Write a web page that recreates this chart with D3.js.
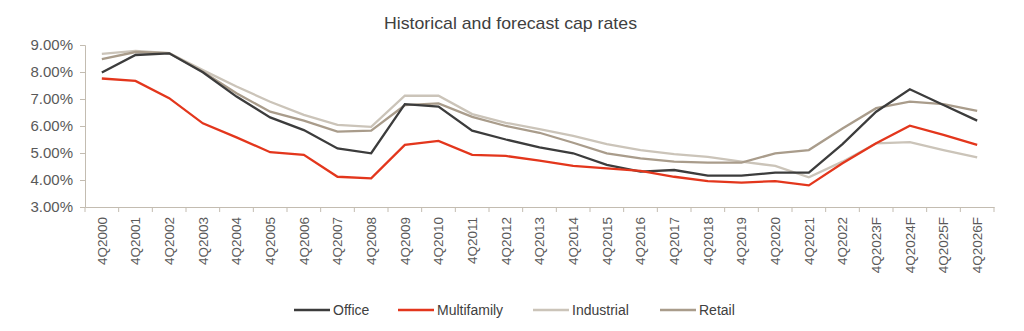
<!DOCTYPE html>
<html><head><meta charset="utf-8">
<script src="https://cdn.jsdelivr.net/npm/d3@7"></script>
<style>body{margin:0;background:#fff;} svg{display:block;font-family:"Liberation Sans",Arial,sans-serif;}</style>
</head><body>
<svg id="c" width="1024" height="331"></svg>
<script>
const categories = ["4Q2000","4Q2001","4Q2002","4Q2003","4Q2004","4Q2005","4Q2006","4Q2007","4Q2008","4Q2009","4Q2010","4Q2011","4Q2012","4Q2013","4Q2014","4Q2015","4Q2016","4Q2017","4Q2018","4Q2019","4Q2020","4Q2021","4Q2022","4Q2023F","4Q2024F","4Q2025F","4Q2026F"];
const office      = [7.98,8.63,8.69,7.99,7.09,6.32,5.85,5.17,4.99,6.81,6.72,5.83,5.50,5.21,4.99,4.56,4.31,4.37,4.16,4.16,4.27,4.27,5.33,6.53,7.36,6.78,6.20];
const multifamily = [7.76,7.67,7.03,6.10,5.58,5.03,4.93,4.12,4.06,5.30,5.45,4.93,4.89,4.72,4.52,4.43,4.34,4.12,3.96,3.90,3.96,3.80,4.62,5.36,6.01,5.67,5.30];
const industrial  = [8.67,8.78,8.70,8.07,7.46,6.90,6.41,6.04,5.97,7.12,7.12,6.44,6.12,5.88,5.63,5.33,5.11,4.96,4.86,4.68,4.52,4.10,4.68,5.36,5.40,5.11,4.84];
const retail      = [8.48,8.74,8.70,8.01,7.21,6.53,6.20,5.79,5.83,6.77,6.84,6.34,6.00,5.75,5.38,4.99,4.80,4.68,4.64,4.64,4.99,5.11,5.91,6.66,6.90,6.81,6.56];
const yTicks = [3,4,5,6,7,8,9];
const seriesNames = ["Office","Multifamily","Industrial","Retail"];
const seriesColors = ["#3c3c3c","#e3361c","#cbc4b9","#a99c8b"];
const seriesData = [office, multifamily, industrial, retail];

const svg = d3.select("#c");
const L = 85, R = 994, T = 45, B = 207;
const x = d3.scaleBand().domain(categories).range([L, R]);
const y = d3.scaleLinear().domain([3, 9]).range([B, T]);
const axisColor = "#c3bcb1";
const FONT = "Liberation Sans, Arial, sans-serif";

svg.append("text").attr("x", 384).attr("y", 29)
  .attr("font-size", 17).attr("fill", "#404040").attr("font-family", FONT)
  .attr("textLength", 253).attr("lengthAdjust", "spacingAndGlyphs")
  .text("Historical and forecast cap rates");

// y axis
const ya = svg.append("g").attr("transform", `translate(${L},0)`)
  .call(d3.axisLeft(y).tickValues(yTicks).tickSize(5).tickFormat(d => d.toFixed(2) + "%"));
ya.select(".domain").attr("stroke", axisColor);
ya.selectAll(".tick line").attr("stroke", axisColor);
ya.selectAll(".tick text").attr("font-size", 15).attr("fill", "#595959").attr("x", -12)
  .attr("font-family", FONT);

// x axis
const xa = svg.append("g").attr("transform", `translate(0,${B})`)
  .call(d3.axisBottom(x).tickSize(0).tickSizeOuter(0));
xa.select(".domain").attr("stroke", axisColor);
xa.selectAll(".tick text").attr("font-size", 13.5).attr("fill", "#595959")
  .attr("transform", "rotate(-90)").attr("text-anchor", "end")
  .attr("x", -10).attr("y", 0).attr("dy", "0.35em")
  .attr("font-family", FONT);
// tick marks between categories
const bounds = categories.map(c => x(c)).concat([x(categories[categories.length-1]) + x.bandwidth()]);
svg.append("g").selectAll("line").data(bounds).join("line")
  .attr("x1", d => d).attr("x2", d => d).attr("y1", B).attr("y2", B + 5)
  .attr("stroke", axisColor);

// lines
const line = d3.line().x((d, i) => x(categories[i]) + x.bandwidth() / 2).y(d => y(d));
const order = [2, 3, 0, 1];
order.forEach(k => {
  svg.append("path").datum(seriesData[k]).attr("d", line)
    .attr("fill", "none").attr("stroke", seriesColors[k]).attr("stroke-width", 2.3)
    .attr("stroke-linejoin", "miter");
});

// legend
const legX = [294, 398, 533, 660];
const lg = svg.append("g");
seriesNames.forEach((n, i) => {
  lg.append("line").attr("x1", legX[i]).attr("x2", legX[i] + 36).attr("y1", 310).attr("y2", 310)
    .attr("stroke", seriesColors[i]).attr("stroke-width", 2.3);
  lg.append("text").attr("x", legX[i] + 39).attr("y", 315).attr("font-size", 14)
    .attr("fill", "#404040").attr("font-family", FONT).text(n);
});
</script>
</body></html>
